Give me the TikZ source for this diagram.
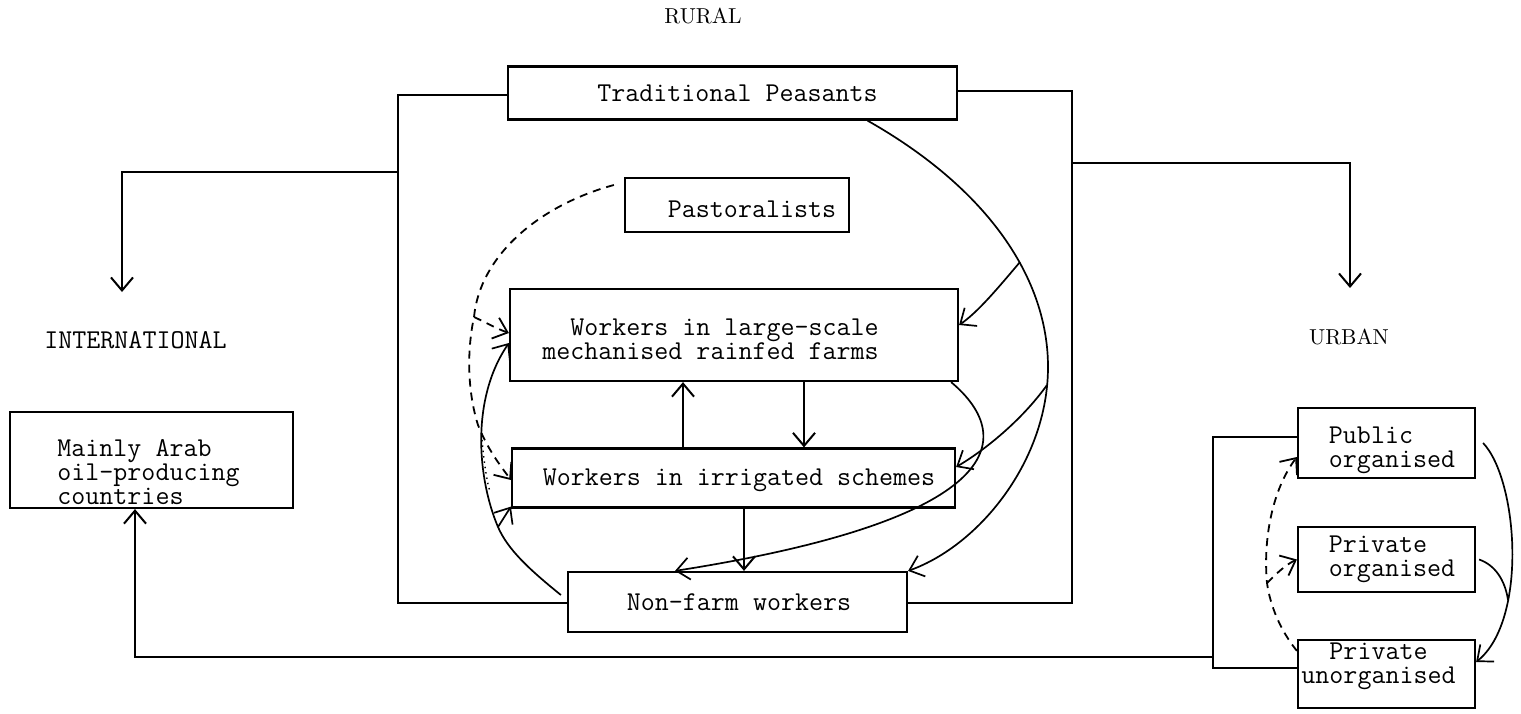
\documentclass[tikz,border=0pt]{standalone}
\usetikzlibrary{arrows.meta,calc}
\newcommand{\bxf}{\fontsize{13.6}{12}\selectfont\ttfamily}
\newcommand{\lbf}{\fontsize{10.8}{13}\selectfont\rmfamily}
\begin{document}
\begin{tikzpicture}[x=0.5pt,y=-0.5pt,
  box/.style={draw, line width=1.1pt, inner sep=0pt},
  txt/.style={font=\bxf, inner sep=0pt},
  ln/.style={line width=1pt},
  cv/.style={line width=0.85pt},
  arr/.style={-{Straight Barb[length=6.5pt,width=11pt]}},
  dsh/.style={dash pattern=on 4pt off 3pt, line width=0.9pt}]
\fill[white] (0,0) rectangle (1521,713);
\useasboundingbox (0,0) rectangle (1521,713);

% labels
\node[font=\lbf, inner sep=0pt] (rur) at (703,16) {RURAL};
\node[font=\lbf, inner sep=0pt] (urb) at (1349,337) {URBAN};
\node[txt] (intl) at (135.5,340) {INTERNATIONAL};

% boxes
\node[box, minimum width=224.5pt, minimum height=26.5pt,
  label={[txt,xshift=2.5pt]center:Traditional Peasants}] (trad) at (732.5,93) {};
\node[box, minimum width=112pt, minimum height=27pt,
  label={[txt,xshift=7.5pt,yshift=-2pt]center:Pastoralists}] (past) at (737,205) {};
\node[box, minimum width=224pt, minimum height=46pt,
  label={[txt,align=right,xshift=-11.75pt,yshift=-2pt]center:{Workers in large-scale\\mechanised rainfed farms}}] (ls) at (734,335) {};
\node[box, minimum width=221.5pt, minimum height=29.5pt,
  label={[txt,xshift=2.75pt,yshift=-1pt]center:Workers in irrigated schemes}] (irr) at (733.5,478) {};
\node[box, minimum width=169.5pt, minimum height=30pt,
  label={[txt,xshift=0.75pt]center:Non-farm workers}] (nf) at (737.5,602) {};
\node[box, minimum width=141.5pt, minimum height=48pt,
  label={[txt,align=left,xshift=-1.5pt,yshift=-6pt]center:{Mainly Arab\\oil-producing\\countries}}] (arab) at (151.5,460) {};
\node[box, minimum width=88.5pt, minimum height=35pt,
  label={[txt,align=left,xshift=2.75pt,yshift=-3.5pt]center:{Public\\organised}}] (pub) at (1386.5,443) {};
\node[box, minimum width=88.5pt, minimum height=32.5pt,
  label={[txt,align=left,xshift=2.75pt]center:{Private\\organised}}] (pro) at (1386.5,559.5) {};
\node[box, minimum width=88.5pt, minimum height=34pt,
  label={[txt,align=left,xshift=-4pt,yshift=3.75pt]center:{\hphantom{un}Private\\unorganised}}] (pun) at (1386.5,674) {};

% rural frame
\coordinate (tl) at (398,95); \coordinate (bl) at (398,603);
\coordinate (tr) at (1072,91); \coordinate (br) at (1072,603);
\draw[ln] (trad.west |- tl) -- (tl) -- (bl) -- (nf.west |- bl);
\draw[ln] (trad.east |- tr) -- (tr) -- (br) -- (nf.east |- br);

% branches to international and urban
\coordinate (jl) at (398,172); \coordinate (ia) at (122,292);
\draw[ln,arr] (jl) -| (ia);
\coordinate (jr) at (1072,163); \coordinate (ua) at (1350,288);
\draw[ln,arr] (jr) -| (ua);

% urban frame and return line
\coordinate (v1) at (1213,437); \coordinate (v2) at (1213,668);
\coordinate (jb) at (1213,657); \coordinate (bc) at (135,657);
\draw[ln] (pub.west |- v1) -- (v1) -- (v2) -- (pun.west |- v2);
\draw[ln,arr] (jb) -- (bc) -- (bc |- arab.south);

% straight inner arrows
\draw[ln,arr] ([xshift=-25.25pt]irr.north) -- ([xshift=-25.5pt]ls.south);
\draw[ln,arr] ([xshift=35pt]ls.south) -- ([xshift=35.25pt]irr.north);
\draw[ln,arr] ([xshift=5.25pt]irr.south) -- ([xshift=3.25pt]nf.north);

% big right curve
\coordinate (b1) at (1020,262); \coordinate (b2) at (1048,367); \coordinate (b3) at (1047,385);
\draw[cv,arr] ([xshift=67.5pt]trad.south) .. controls (990,190) and (1048,280) .. (b2)
   .. controls (1048,460) and (980,545) .. (nf.north east);
\draw[cv,arr] (b1) .. controls (998,288) and (978,312) .. ([yshift=5pt]ls.east);
\draw[cv,arr] (b3) .. controls (1022,420) and (985,450) .. ([yshift=5.5pt]irr.east);
\draw[cv,arr] ([xshift=-4pt]ls.south east) .. controls (1020,440) and (1000,520) .. ([xshift=-31.25pt]nf.north);

% left solid curve
\coordinate (jj) at (498,527);
\draw[cv,arr] ([shift={(-3pt,3.5pt)}]nf.west) .. controls (530,570) and (508,550) .. (jj)
   .. controls (478,480) and (470,400) .. ([yshift=-4pt]ls.west);
\draw[cv,arr] (jj) -- ([yshift=1pt]irr.south west);

% dashed from pastoralists
\coordinate (d1) at (474,317); \coordinate (d2) at (478,425);
\draw[dsh,arr] ([shift={(-5pt,10pt)}]past.west) .. controls (540,205) and (480,255) .. (d1)
   .. controls (465,360) and (470,400) .. (d2)
   .. controls (488,450) and (500,465) .. ([yshift=-1pt]irr.west);
\draw[dsh,arr] (d1) .. controls (485,322) and (495,328) .. ([yshift=1pt]ls.west);
\coordinate (o1) at (482,440); \coordinate (o2) at (490,492);
\draw[dotted, line width=0.7pt] (o1) .. controls (484,460) and (486,478) .. (o2);

% urban curves
\coordinate (m1) at (1508,600);
\draw[cv,arr] ([xshift=3.5pt]pub.east) .. controls (1518,480) and (1528,620) .. ([yshift=6pt]pun.east);
\draw[cv] ([xshift=1.5pt]pro.east) .. controls (1495,565) and (1505,580) .. (m1);
\coordinate (d3) at (1267,583);
\draw[dsh,arr] ([yshift=-6pt]pun.north west) .. controls (1280,630) and (1270,605) .. (d3)
   .. controls (1263,540) and (1272,490) .. ([yshift=-7pt]pub.west);
\draw[dsh,arr] (d3) .. controls (1275,575) and (1285,565) .. (pro.west);
\end{tikzpicture}
\end{document}
